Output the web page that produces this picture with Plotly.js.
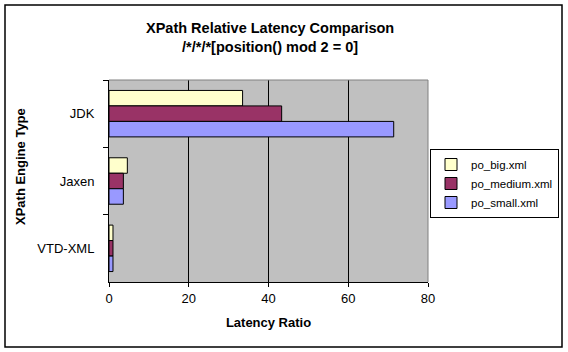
<!DOCTYPE html>
<html>
<head>
<meta charset="utf-8">
<script src="https://cdn.plot.ly/plotly-3.0.1.min.js"></script>
<style>html,body{margin:0;padding:0;background:#fff;}</style>
</head>
<body>
<div id="chart" style="width:568px;height:352px;"></div>
<script>
var engines = ["JDK", "Jaxen", "VTD-XML"];
var seriesNames = ["po_big.xml", "po_medium.xml", "po_small.xml"];
var bigValues = [33.5, 4.6, 1.0];
var mediumValues = [43.3, 3.6, 1.0];
var smallValues = [71.4, 3.6, 1.0];
var seriesColors = ["#FFFFCC", "#993366", "#9999FF"];
var xTickValues = [0, 20, 40, 60, 80];

var allValues = [bigValues, mediumValues, smallValues];
var traces = allValues.map(function (vals, i) {
  return {
    type: "bar",
    orientation: "h",
    name: seriesNames[i],
    y: engines,
    x: vals,
    marker: { color: seriesColors[i], line: { color: "#000000", width: 1 } },
    hoverinfo: "x+y+name"
  };
});

var F = "Liberation Sans, Arial, sans-serif";

var layout = {
  width: 568,
  height: 352,
  margin: { l: 109, r: 140, t: 80, b: 70, pad: 0, autoexpand: false },
  paper_bgcolor: "#FFFFFF",
  plot_bgcolor: "#C0C0C0",
  font: { family: F, size: 13, color: "#000000" },
  barmode: "group",
  bargap: 0.31,
  bargroupgap: 0,
  title: {
    text: "XPath Relative Latency Comparison<br>/*/*/*[position() mod 2 = 0]",
    font: { family: F, size: 14.5, color: "#000000", weight: "bold" },
    xref: "paper", x: 0.505, xanchor: "center",
    yref: "container", y: 0.907, yanchor: "middle"
  },
  xaxis: {
    range: [0, 80],
    tickvals: xTickValues,
    ticktext: xTickValues.map(String),
    showgrid: true, gridcolor: "#000000", gridwidth: 1,
    zeroline: false,
    showline: true, linecolor: "#000000", linewidth: 1,
    ticks: "outside", ticklen: 4, tickcolor: "#000000", tickwidth: 1,
    tickfont: { family: F, size: 13, color: "#000000" },
    title: { text: "Latency Ratio", font: { family: F, size: 13, weight: "bold", color: "#000000" }, standoff: 13 },
    automargin: false,
    fixedrange: true
  },
  yaxis: {
    type: "category",
    categoryorder: "array",
    categoryarray: engines,
    autorange: "reversed",
    showgrid: false,
    zeroline: false,
    showline: true, linecolor: "#000000", linewidth: 1,
    ticks: "outside", ticklen: 5, tickcolor: "#000000", tickwidth: 1,
    tickson: "boundaries",
    ticklabelstandoff: 11,
    tickfont: { family: F, size: 13, color: "#000000" },
    automargin: false,
    fixedrange: true
  },
  legend: {
    x: (430 - 109) / 319, xanchor: "left",
    y: (282 - 149) / 202, yanchor: "top",
    bgcolor: "#FFFFFF",
    bordercolor: "#000000", borderwidth: 1,
    font: { family: F, size: 11.5, color: "#000000" },
    traceorder: "normal",
    itemwidth: 30,
    tracegroupgap: 0
  },
  annotations: [{
    text: "XPath Engine Type",
    font: { family: F, size: 13, weight: "bold", color: "#000000" },
    textangle: -90,
    xref: "paper", yref: "paper",
    x: (20 - 109) / 319, y: (282 - 167) / 202,
    xanchor: "center", yanchor: "middle",
    showarrow: false
  }],
  shapes: [
    { type: "rect", xref: "paper", yref: "paper",
      x0: (5 - 109) / 319, x1: (562 - 109) / 319,
      y0: (282 - 347) / 202, y1: (282 - 5) / 202,
      line: { color: "#000000", width: 1.5 }, fillcolor: "rgba(0,0,0,0)", layer: "below" },
    { type: "line", xref: "paper", yref: "paper",
      x0: 1, x1: 1, y0: 0, y1: 1,
      line: { color: "#808080", width: 1 }, layer: "above" },
    { type: "line", xref: "paper", yref: "paper",
      x0: 0, x1: 1, y0: 1, y1: 1,
      line: { color: "#808080", width: 1 }, layer: "above" }
  ]
};

Plotly.newPlot("chart", traces, layout, { staticPlot: true, displayModeBar: false });
</script>
</body>
</html>
